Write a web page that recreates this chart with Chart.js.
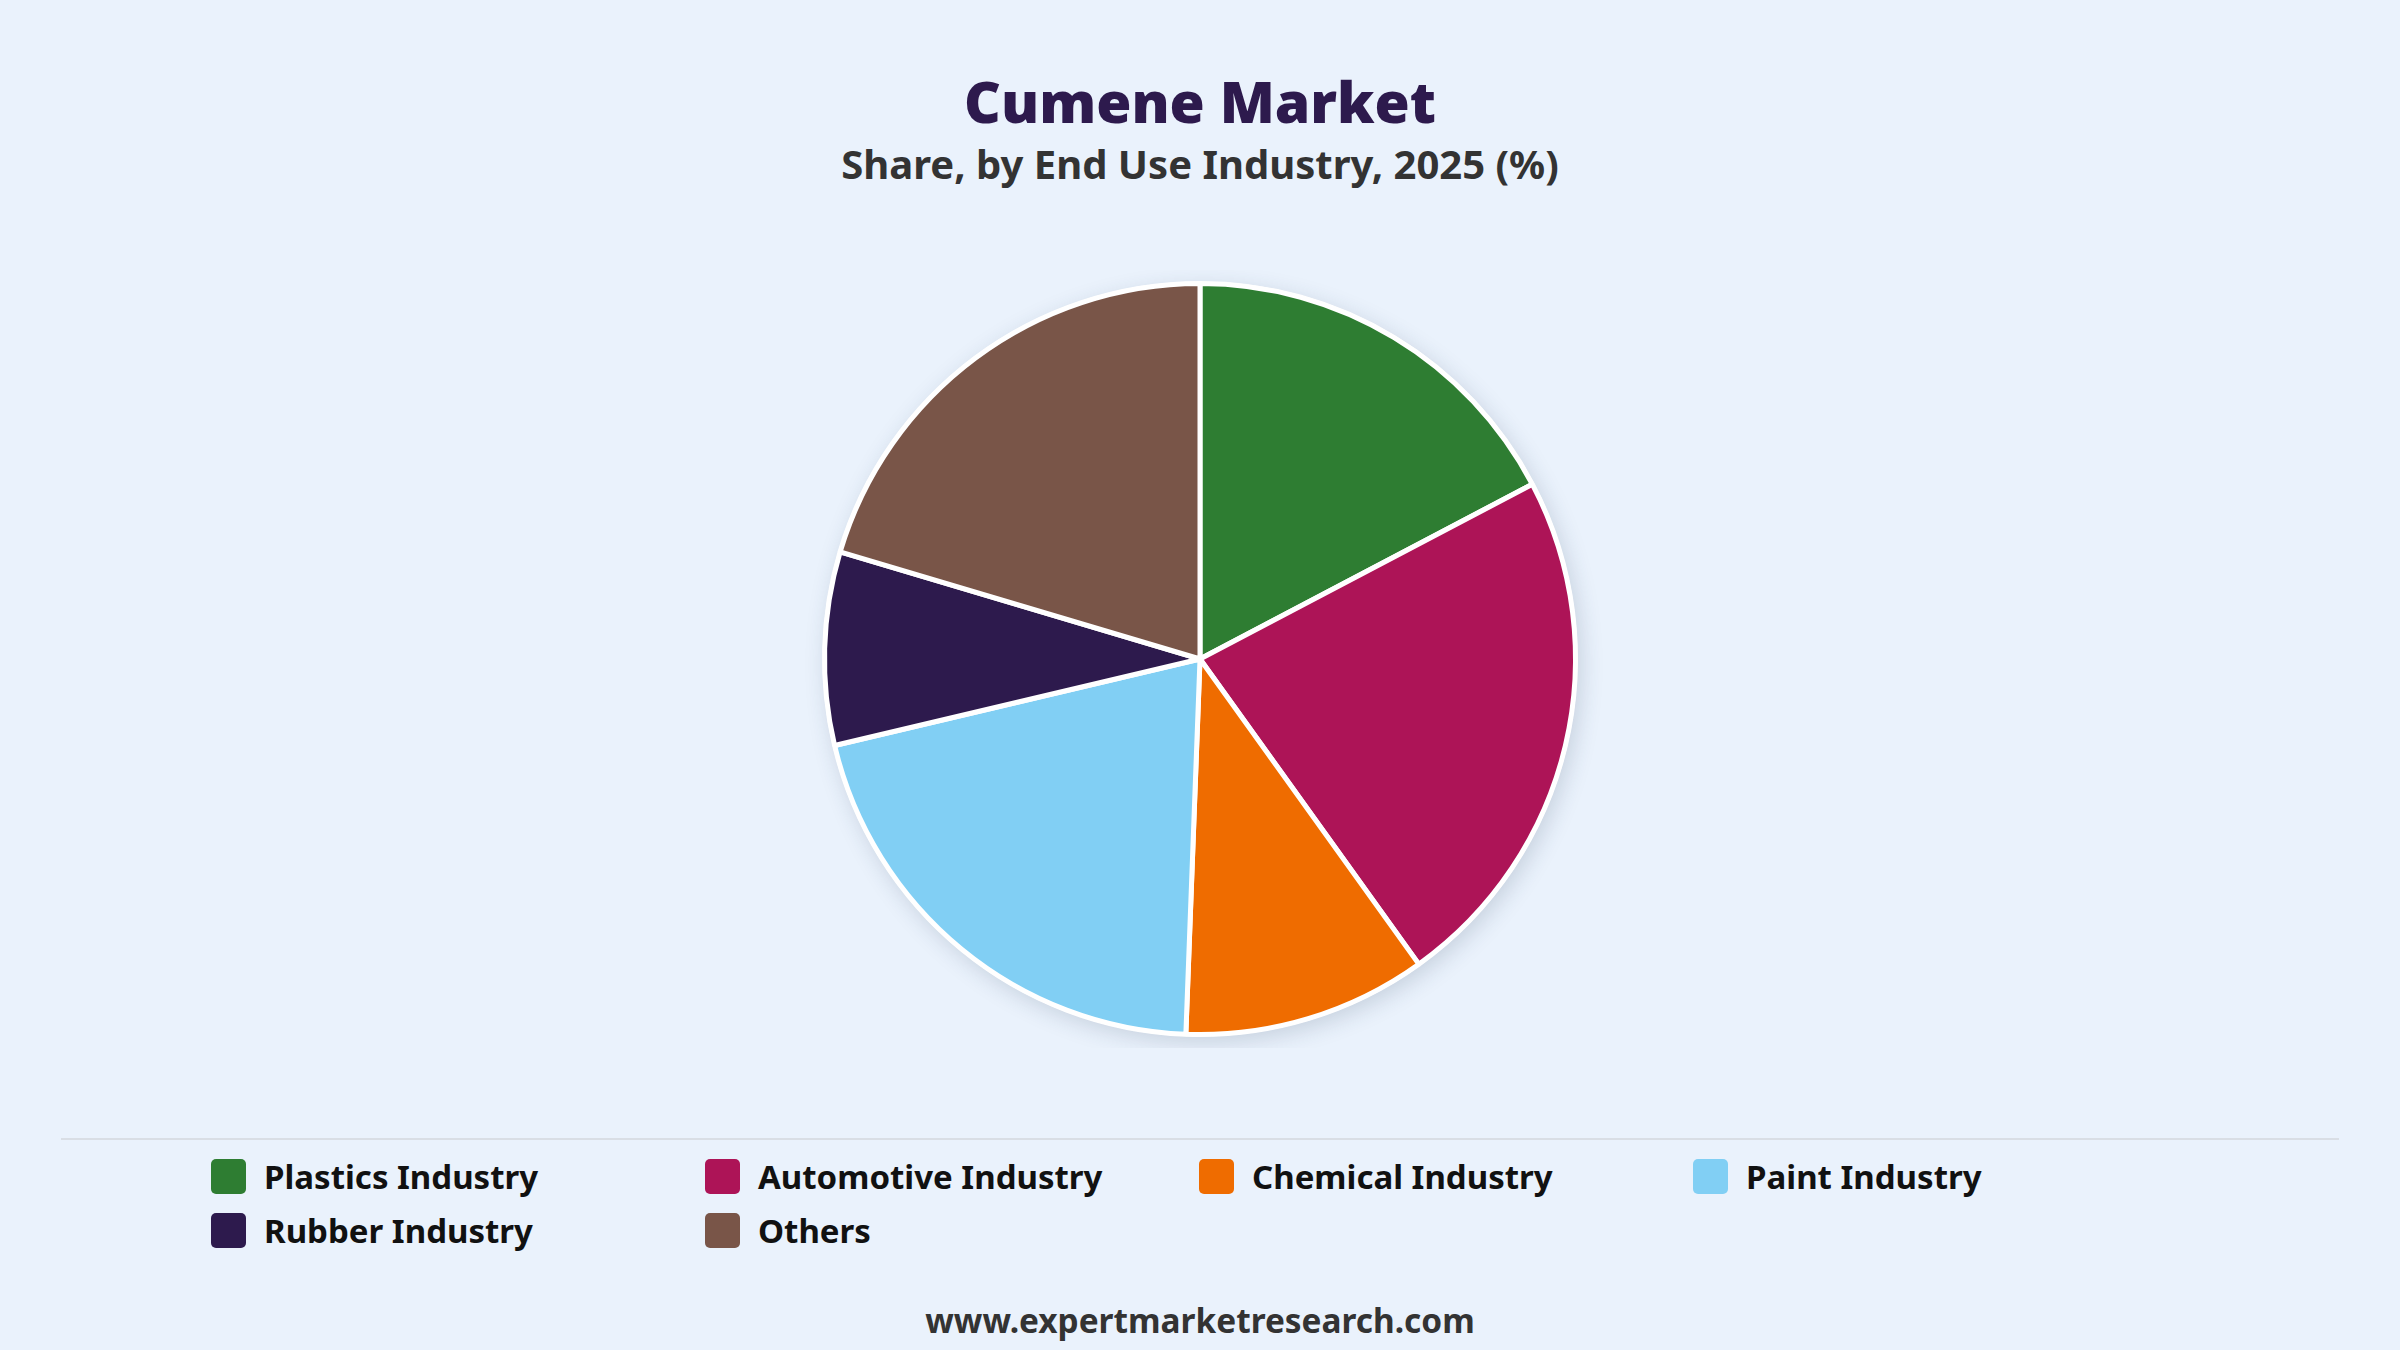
<!DOCTYPE html>
<html>
<head>
<meta charset="utf-8">
<script src="https://cdn.jsdelivr.net/npm/chart.js@4.4.1/dist/chart.umd.min.js"></script>
<style>
    html, body {
        margin: 0;
        padding: 0;
        width: 2400px;
        height: 1350px;
        background: #eaf2fc;
        font-family: "Noto Sans", "Open Sans", sans-serif;
        overflow: hidden;
    }
    .title {
        position: absolute;
        left: 0;
        width: 2400px;
        top: 63px;
        text-align: center;
        font-size: 57px;
        font-weight: 900;
        color: #2d1a4d;
        line-height: 76px;
    }
    .subtitle {
        position: absolute;
        left: 0;
        width: 2400px;
        top: 139px;
        text-align: center;
        font-size: 40px;
        font-weight: 700;
        color: #333333;
        line-height: 50px;
    }
    #chartBox {
        position: absolute;
        left: 0;
        top: 270px;
        width: 2400px;
        height: 778px;
    }
    .divider {
        position: absolute;
        left: 61px;
        width: 2278px;
        top: 1138px;
        height: 2px;
        background: #d9dee5;
    }
    #legend {
        position: absolute;
        left: 211px;
        top: 1149px;
        width: 1976px;
        display: grid;
        grid-template-columns: repeat(4, 494px);
        row-gap: 0;
    }
    .item {
        display: flex;
        align-items: center;
        height: 54px;
        font-size: 33px;
        font-weight: 700;
        color: #111111;
    }
    .swatch {
        width: 35px;
        height: 35px;
        border-radius: 5px;
        margin-right: 18px;
        flex: none;
    }
    .footer {
        position: absolute;
        left: 0;
        width: 2400px;
        top: 1298px;
        text-align: center;
        font-size: 33.4px;
        font-weight: 700;
        color: #333333;
        line-height: 44px;
    }
</style>
</head>
<body>

<div class="title">Cumene Market</div>
<div class="subtitle">Share, by End Use Industry, 2025 (%)</div>

<div id="chartBox">
    <canvas id="cumeneChart"></canvas>
</div>

<div class="divider"></div>
<div id="legend"></div>

<div class="footer">www.expertmarketresearch.com</div>

<script>
// ============================================
// DATA
// ============================================

const industries = [
    "Plastics Industry",
    "Automotive Industry",
    "Chemical Industry",
    "Paint Industry",
    "Rubber Industry",
    "Others"
];

const shares = [17.3, 22.8, 10.5, 20.7, 8.3, 20.4];

const sliceColors = [
    "#2e7d32",
    "#ad1457",
    "#ef6c00",
    "#81cff4",
    "#2d1a4d",
    "#795548"
];


// ============================================
// SOFT SHADOW BEHIND THE PIE
// ============================================

const pieShadow = {
    id: "pieShadow",
    beforeDatasetsDraw(chart) {
        const arc = chart.getDatasetMeta(0).data[0];
        if (!arc) return;
        const ctx = chart.ctx;
        ctx.save();
        ctx.shadowColor = "rgba(40, 60, 90, 0.18)";
        ctx.shadowBlur = 22;
        ctx.shadowOffsetX = 4;
        ctx.shadowOffsetY = 6;
        ctx.fillStyle = "#ffffff";
        ctx.beginPath();
        ctx.arc(arc.x, arc.y, arc.outerRadius + 2, 0, Math.PI * 2);
        ctx.fill();
        ctx.restore();
    }
};


// ============================================
// CUMENE SHARE (PIE)
// ============================================

new Chart(
    document.getElementById("cumeneChart"),
    {
        type: "pie",

        data: {
            labels: industries,
            datasets: [{
                data: shares,
                backgroundColor: sliceColors,
                borderColor: "#ffffff",
                borderWidth: 5
            }]
        },

        options: {
            responsive: true,
            maintainAspectRatio: false,
            animation: false,
            layout: {
                padding: 11
            },
            plugins: {
                legend: {
                    display: false
                },
                tooltip: {
                    enabled: false
                }
            }
        },

        plugins: [pieShadow]
    }
);


// ============================================
// LEGEND (4 fixed columns)
// ============================================

const legendBox = document.getElementById("legend");

industries.forEach(function (name, i) {
    const item = document.createElement("div");
    item.className = "item";

    const swatch = document.createElement("span");
    swatch.className = "swatch";
    swatch.style.background = sliceColors[i];

    const text = document.createElement("span");
    text.textContent = name;

    item.appendChild(swatch);
    item.appendChild(text);
    legendBox.appendChild(item);
});
</script>
</body>
</html>
